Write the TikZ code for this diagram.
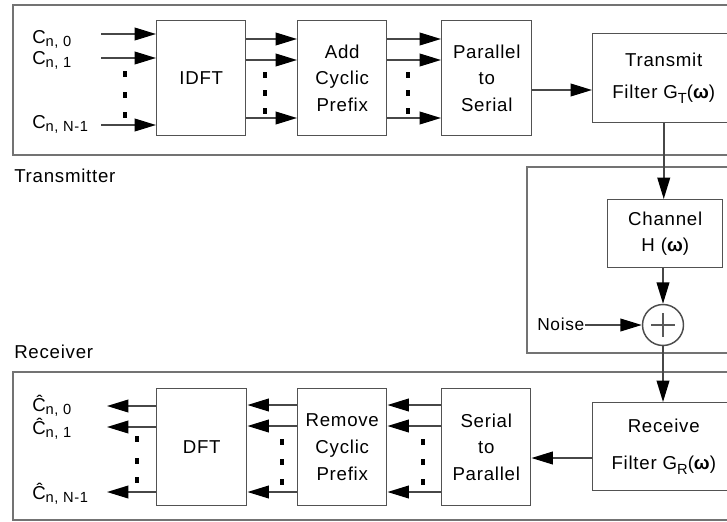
\documentclass[tikz,border=0pt]{standalone}
\usepackage{fontspec}
\setmainfont{Liberation Sans}[LetterSpace=4]
\usetikzlibrary{arrows.meta}
% subscript set slightly below the baseline, as in the block labels
\newcommand\lowsub[2][2.5pt]{\raisebox{-#1}{\fontsize{11}{11}\selectfont #2}}
\newcommand\omg{{\bfseries ω}}
\begin{document}
\begin{tikzpicture}[x=0.75pt,y=-0.75pt,
  blk/.style={draw=black!68, line width=1.1pt, inner sep=0pt, align=center,
              font=\fontsize{14}{20}\selectfont},
  frame/.style={draw=black!55, line width=1.5pt},
  sig/.style={draw=black!72, line width=1.2pt,
              -{Triangle[length=16pt,width=9.5pt,color=black,fill=black]}},
  sq/.style={fill=black, minimum width=3.6pt, minimum height=4pt, inner sep=0pt},
  lbl/.style={font=\fontsize{14}{17}\selectfont, inner sep=0pt},
]
\useasboundingbox (0,0) rectangle (727,521);
\clip (0,0) rectangle (727,521);

% section frames (open to the right)
\draw[frame] (13,5) rectangle (760,155);
\draw[frame] (527,167) rectangle (760,353);
\draw[frame] (13,372) rectangle (760,520);
\node[lbl, anchor=base west] (txlbl) at (14,182) {Transmitter};
\node[lbl, anchor=base west] (rxlbl) at (14,358) {Receiver};

% transmitter blocks
\node[blk, anchor=north west, minimum width=89*0.75pt, minimum height=115*0.75pt] (idft) at (156,20) {IDFT};
\node[blk, anchor=north west, minimum width=89*0.75pt, minimum height=115*0.75pt] (addcp) at (297,20) {Add\\Cyclic\\Prefix};
\node[blk, anchor=north west, minimum width=90*0.75pt, minimum height=115*0.75pt] (ptos) at (441,20) {Parallel\\to\\Serial};
\node[blk, anchor=north west, minimum width=142*0.75pt, minimum height=89*0.75pt] (txf) at (592,33)
  {Transmit\\[4pt]Filter G\lowsub[4pt]{T}(\omg)};

% channel
\node[blk, anchor=north west, minimum width=115*0.75pt, minimum height=68*0.75pt] (chan) at (607,199)
  {\raisebox{-3pt}{Channel}\\[2pt]H (\omg)};
\node[draw=black!70, line width=1.1pt, circle, minimum size=41*0.75pt, inner sep=0pt] (sum) at (663,325) {};
\draw[black!65, line width=0.9pt] (sum.center) ++(-12,0) -- ++(24,0);
\draw[black!65, line width=0.9pt] (sum.center) ++(0,-12) -- ++(0,24);
\node[font=\fontsize{13}{15}\selectfont, inner sep=0pt, anchor=base west] (noise) at (537,330) {Noise};

% receiver blocks
\node[blk, anchor=north west, minimum width=142*0.75pt, minimum height=88*0.75pt] (rxf) at (592,402)
  {Receive\\[8pt]Filter G\lowsub[4pt]{R}(\omg)};
\node[blk, anchor=north west, minimum width=89*0.75pt, minimum height=117*0.75pt] (stop) at (441,388) {Serial\\to\\Parallel};
\node[blk, anchor=north west, minimum width=89*0.75pt, minimum height=117*0.75pt] (remcp) at (297,388) {Remove\\Cyclic\\Prefix};
\node[blk, anchor=north west, minimum width=90*0.75pt, minimum height=117*0.75pt] (dft) at (156,388) {DFT};

% input symbols
\node[lbl, anchor=base west] (c0) at (32,43) {C\lowsub{n, 0}};
\node[lbl, anchor=base west] (c1) at (32,64) {C\lowsub{n, 1}};
\node[lbl, anchor=base west] (cN) at (32,128) {C\lowsub{n, N-1}};
\coordinate (i0) at (101,34);
\coordinate (i1) at (101,58);
\coordinate (iN) at (101,125);
\draw[sig] (i0) -- (i0 -| idft.west);
\draw[sig] (i1) -- (i1 -| idft.west);
\draw[sig] (iN) -- (iN -| idft.west);

% IDFT -> add CP -> P/S
\foreach \yy in {39,60,118}{
  \draw[sig] (idft.east |- 0,\yy) -- (addcp.west |- 0,\yy);
  \draw[sig] (addcp.east |- 0,\yy) -- (ptos.west |- 0,\yy);
}
\draw[sig] (ptos.east |- 0,90) -- (txf.west |- 0,90);

% ellipsis dots
\foreach \yy in {74,95,115} \node[sq] at (125,\yy) {};
\foreach \yy in {75,93,111} { \node[sq] at (265,\yy) {}; \node[sq] at (408,\yy) {}; }

% channel path
\draw[sig] (txf.south) -- (txf.south |- chan.north);
\draw[sig] (chan.south -| sum.north) -- (sum.north);
\draw[sig] (noise.east |- sum.west) -- (sum.west);
\draw[sig] (sum.south) -- (sum.south |- rxf.north);

% receiver chain
\draw[sig] (rxf.west |- 0,458) -- (stop.east |- 0,458);
\foreach \yy in {405,426,492}{
  \draw[sig] (stop.west |- 0,\yy) -- (remcp.east |- 0,\yy);
  \draw[sig] (remcp.west |- 0,\yy) -- (dft.east |- 0,\yy);
}
\coordinate (o0) at (107,406);
\coordinate (o1) at (107,427);
\coordinate (oN) at (107,492);
\draw[sig] (o0 -| dft.west) -- (o0);
\draw[sig] (o1 -| dft.west) -- (o1);
\draw[sig] (oN -| dft.west) -- (oN);
\foreach \yy in {442,462,482} { \node[sq] at (423,\yy) {}; \node[sq] at (282,\yy) {}; }
\foreach \yy in {439,461,480} \node[sq] at (137,\yy) {};

% estimated symbols
\node[lbl, anchor=base west] (h0) at (32,411) {Ĉ\lowsub{n, 0}};
\node[lbl, anchor=base west] (h1) at (32,434) {Ĉ\lowsub{n, 1}};
\node[lbl, anchor=base west] (hN) at (32,499) {Ĉ\lowsub{n, N-1}};
\end{tikzpicture}
\end{document}
